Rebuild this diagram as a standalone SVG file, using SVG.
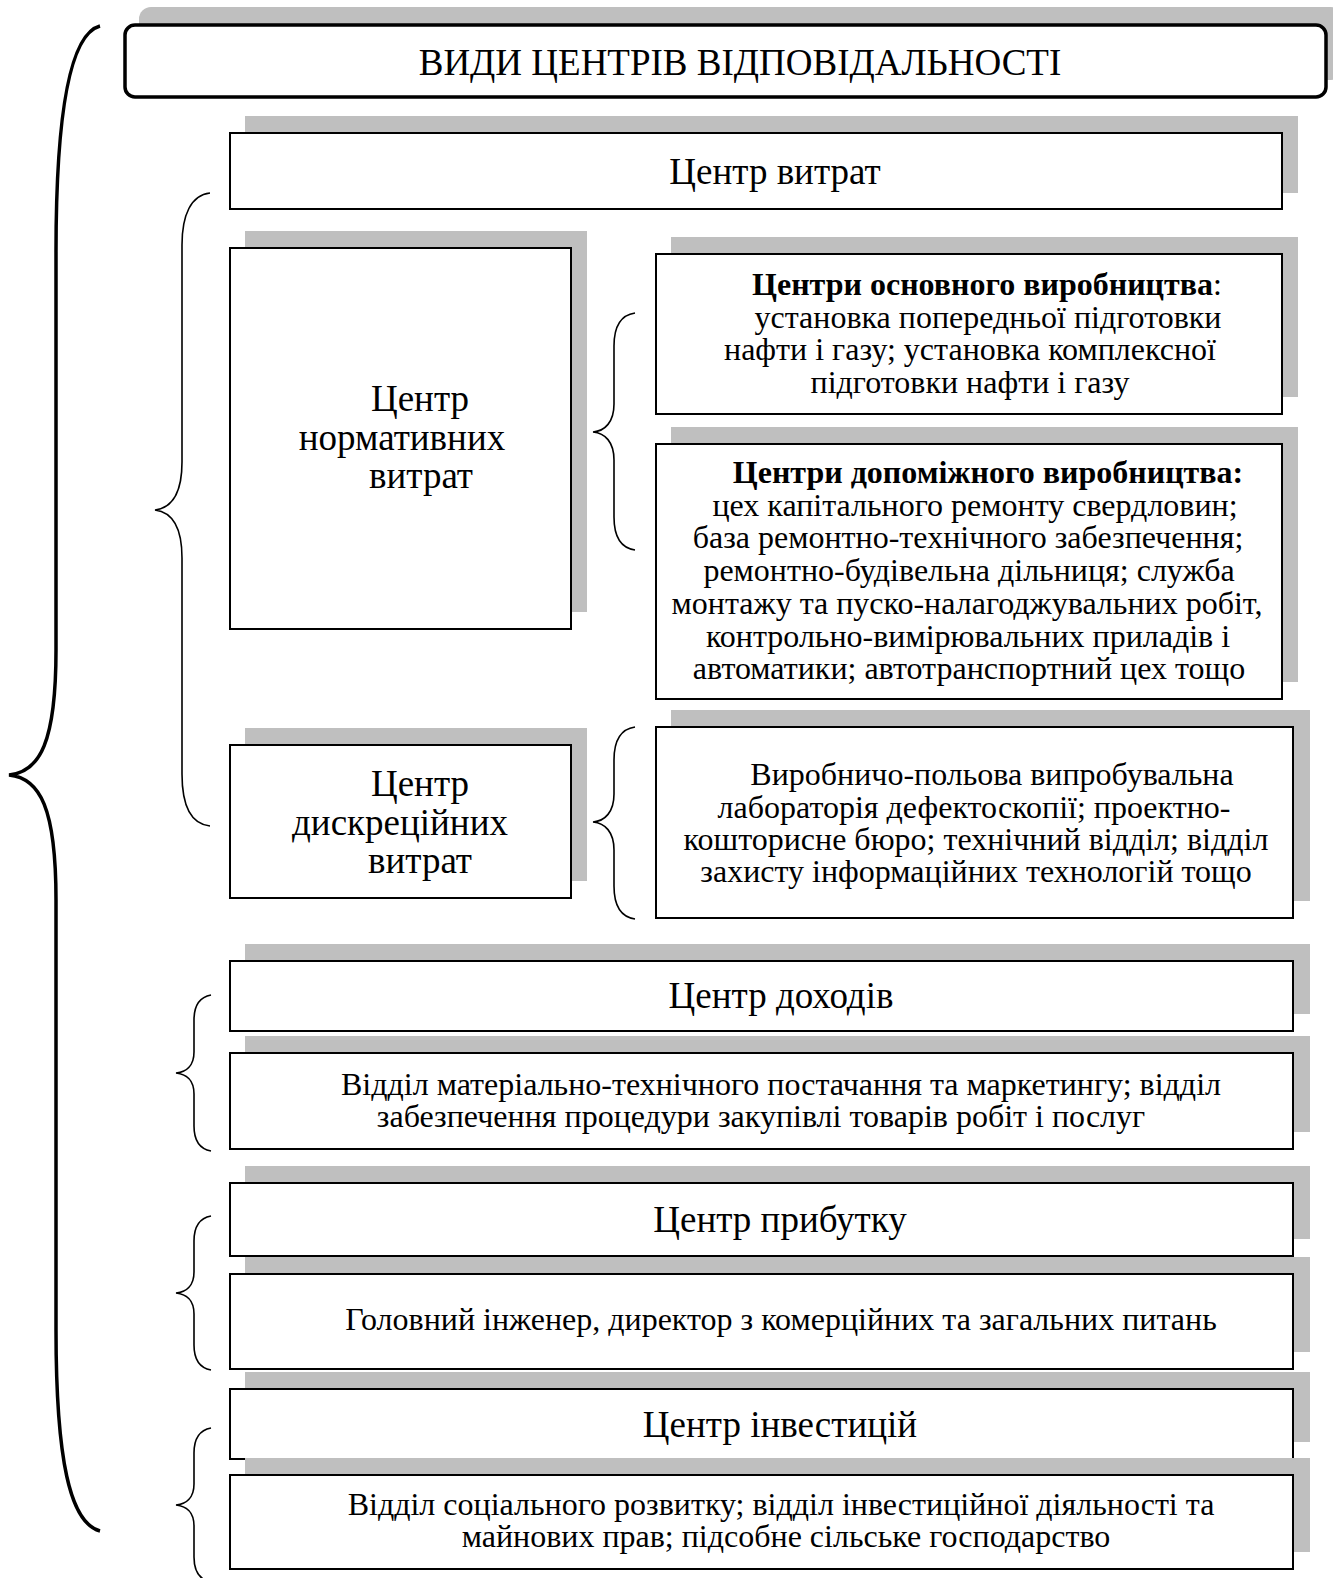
<svg xmlns="http://www.w3.org/2000/svg" width="1333" height="1578" viewBox="0 0 1333 1578">
  <style>
    .shadow { fill: #bfbfbf; }
    .box { fill: #ffffff; stroke: #000000; stroke-width: 2; }
    .title-box { fill: #ffffff; stroke: #000000; stroke-width: 3.5; }
    text { font-family: "Liberation Serif", "Times New Roman", serif; fill: #000000; text-anchor: middle; }
    .big { font-size: 37px; }
    .title { font-size: 37px; }
    .small { font-size: 32px; }
    .bold { font-weight: bold; }
    .brace { fill: none; stroke: #000000; stroke-width: 1.6; }
    .brace-main { fill: none; stroke: #000000; stroke-width: 3.5; }
  </style>
  <rect width="1333" height="1578" fill="#ffffff"/>

  <!-- braces -->
  <g id="connectors">
    <path class="brace-main" d="M100,26 C70,34 56,112 56,252 L56,650 C56,742 40,772 9,775 C40,778 56,808 56,900 L56,1330 C56,1460 70,1523 100,1531"/>
    <path class="brace" d="M210,193 C191,195 182,215 182,245 L182,462 C182,494 171,508 155,510 C171,512 182,526 182,558 L182,774 C182,805 191,824 210,826"/>
    <path class="brace" d="M635,313 C621,315 614,326 614,346 L614,404 C614,422 605,431 593,432 C605,433 614,442 614,460 L614,517 C614,538 621,548 635,550"/>
    <path class="brace" d="M635,727 C621,729 614,740 614,760 L614,794 C614,812 605,821 593,822 C605,823 614,832 614,850 L614,886 C614,906 621,917 635,919"/>
    <path class="brace" d="M211,995 C200,997 194,1005 194,1020 L194,1052 C194,1066 186,1072 176,1073 C186,1074 194,1080 194,1094 L194,1126 C194,1141 200,1149 211,1151"/>
    <path class="brace" d="M211,1216 C200,1218 194,1226 194,1241 L194,1272 C194,1286 186,1292 176,1293 C186,1294 194,1300 194,1314 L194,1345 C194,1360 200,1368 211,1370"/>
    <path class="brace" d="M211,1428 C200,1430 194,1438 194,1453 L194,1484 C194,1498 186,1504 176,1505 C186,1506 194,1512 194,1526 L194,1557 C194,1572 200,1580 211,1582"/>
  </g>

  <!-- title -->
  <g id="title">
    <rect class="shadow" x="139" y="7" width="1204" height="73" rx="12"/>
    <rect class="title-box" x="125" y="25" width="1201" height="72" rx="10"/>
    <text class="title" x="740" y="75">ВИДИ ЦЕНТРІВ ВІДПОВІДАЛЬНОСТІ</text>
  </g>

  <g id="cost-center">
    <rect class="shadow" x="245" y="116" width="1053" height="77"/>
    <rect class="box" x="230" y="133" width="1052" height="76"/>
    <text class="big" x="775" y="184">Центр витрат</text>
  </g>

  <g id="standard-cost-center">
    <rect class="shadow" x="245" y="231" width="342" height="381"/>
    <rect class="box" x="230" y="248" width="341" height="381"/>
    <text class="big" x="420" y="411">Центр</text>
    <text class="big" x="402" y="450">нормативних</text>
    <text class="big" x="421" y="488">витрат</text>
  </g>

  <g id="main-production">
    <rect class="shadow" x="671" y="237" width="627" height="160"/>
    <rect class="box" x="656" y="254" width="626" height="160"/>
    <text class="small" x="987" y="295"><tspan class="bold">Центри основного виробництва</tspan>:</text>
    <text class="small" x="988" y="328">установка попередньої підготовки</text>
    <text class="small" x="970" y="360">нафти і газу; установка комплексної</text>
    <text class="small" x="970" y="393">підготовки нафти і газу</text>
  </g>

  <g id="auxiliary-production">
    <rect class="shadow" x="671" y="427" width="627" height="255"/>
    <rect class="box" x="656" y="444" width="626" height="255"/>
    <text class="small bold" x="988" y="483">Центри допоміжного виробництва:</text>
    <text class="small" x="975" y="516">цех капітального ремонту свердловин;</text>
    <text class="small" x="968" y="548">база ремонтно-технічного забезпечення;</text>
    <text class="small" x="969" y="581">ремонтно-будівельна дільниця; служба</text>
    <text class="small" x="967" y="614">монтажу та пуско-налагоджувальних робіт,</text>
    <text class="small" x="968" y="647">контрольно-вимірювальних приладів і</text>
    <text class="small" x="969" y="679">автоматики; автотранспортний цех тощо</text>
  </g>

  <g id="discretionary-cost-center">
    <rect class="shadow" x="245" y="728" width="342" height="153"/>
    <rect class="box" x="230" y="745" width="341" height="153"/>
    <text class="big" x="420" y="796">Центр</text>
    <text class="big" x="400" y="835">дискреційних</text>
    <text class="big" x="420" y="873">витрат</text>
  </g>

  <g id="field-laboratory">
    <rect class="shadow" x="671" y="710" width="639" height="191"/>
    <rect class="box" x="656" y="727" width="637" height="191"/>
    <text class="small" x="992" y="785">Виробничо-польова випробувальна</text>
    <text class="small" x="974" y="818">лабораторія дефектоскопії; проектно-</text>
    <text class="small" x="976" y="850">кошторисне бюро; технічний відділ; відділ</text>
    <text class="small" x="976" y="882">захисту інформаційних технологій тощо</text>
  </g>

  <g id="revenue-center">
    <rect class="shadow" x="245" y="944" width="1065" height="70"/>
    <rect class="box" x="230" y="961" width="1063" height="70"/>
    <text class="big" x="781" y="1008">Центр доходів</text>
  </g>

  <g id="revenue-units">
    <rect class="shadow" x="245" y="1036" width="1065" height="96"/>
    <rect class="box" x="230" y="1053" width="1063" height="96"/>
    <text class="small" x="781" y="1095">Відділ матеріально-технічного постачання та маркетингу; відділ</text>
    <text class="small" x="761" y="1127">забезпечення процедури закупівлі товарів робіт і послуг</text>
  </g>

  <g id="profit-center">
    <rect class="shadow" x="245" y="1166" width="1065" height="73"/>
    <rect class="box" x="230" y="1183" width="1063" height="73"/>
    <text class="big" x="780" y="1232">Центр прибутку</text>
  </g>

  <g id="profit-units">
    <rect class="shadow" x="245" y="1257" width="1065" height="95"/>
    <rect class="box" x="230" y="1274" width="1063" height="95"/>
    <text class="small" x="781" y="1330">Головний інженер, директор з комерційних та загальних питань</text>
  </g>

  <g id="investment-center">
    <rect class="shadow" x="245" y="1372" width="1065" height="70"/>
    <rect class="box" x="230" y="1389" width="1063" height="70"/>
    <text class="big" x="780" y="1437">Центр інвестицій</text>
  </g>

  <g id="investment-units">
    <rect class="shadow" x="245" y="1458" width="1065" height="94"/>
    <rect class="box" x="230" y="1475" width="1063" height="94"/>
    <text class="small" x="781" y="1515">Відділ соціального розвитку; відділ інвестиційної діяльності та</text>
    <text class="small" x="786" y="1547">майнових прав; підсобне сільське господарство</text>
  </g>
</svg>
